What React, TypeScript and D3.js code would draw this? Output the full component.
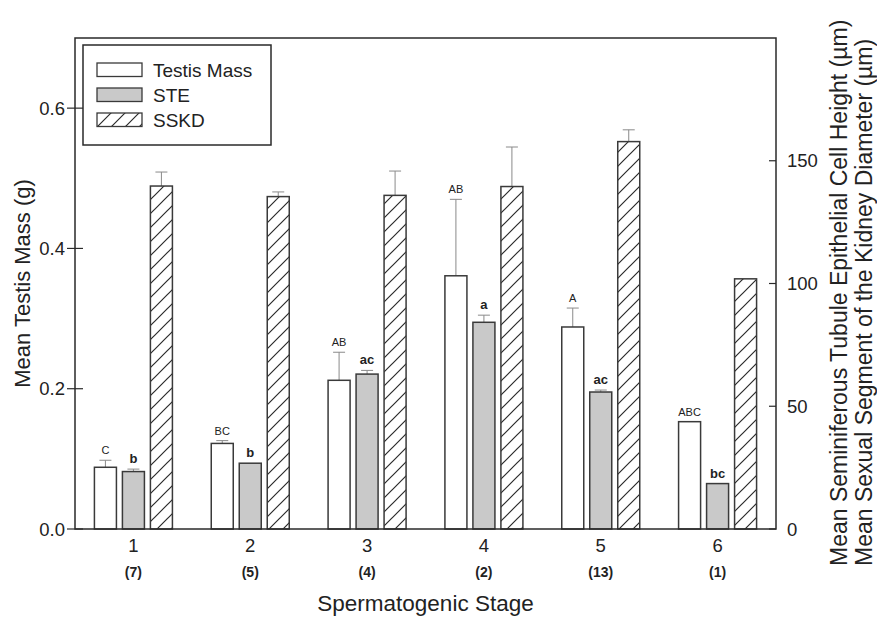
import * as d3 from 'd3'

const stages = ['1', '2', '3', '4', '5', '6']
const sampleSizes = ['(7)', '(5)', '(4)', '(2)', '(13)', '(1)']

// left axis (g)
const testisMass = [0.088, 0.122, 0.212, 0.361, 0.288, 0.153]
const testisMassErr = [0.01, 0.004, 0.04, 0.109, 0.027, 0]
const massLetters = ['C', 'BC', 'AB', 'AB', 'A', 'ABC']

// right axis (µm)
const ste = [23.4, 26.8, 63.1, 84.2, 55.8, 18.5]
const steErr = [1.0, 0, 1.5, 2.9, 0.8, 0]
const steLetters = ['b', 'b', 'ac', 'a', 'ac', 'bc']

const sskd = [139.7, 135.4, 135.9, 139.5, 157.8, 101.9]
const sskdErr = [5.7, 1.9, 9.9, 16.1, 4.8, 0]

const leftTicks = [0, 0.2, 0.4, 0.6]
const rightTicks = [0, 50, 100, 150]
const seriesNames = ['Testis Mass', 'STE', 'SSKD']

const W = 877
const H = 618
const margin = { top: 38, right: 101, bottom: 89, left: 75 }
const FONT = '"Liberation Sans", Arial, sans-serif'
const INK = '#222'
const EDGE = '#3a3a3a'
const ERR = '#8a8a8a'
const GREY = '#c9c9c9'

export default function App() {
  const innerW = W - margin.left - margin.right
  const innerH = H - margin.top - margin.bottom
  const x0 = margin.left
  const y0 = margin.top
  const bottom = y0 + innerH

  const x = d3.scaleBand<string>().domain(stages).range([x0, x0 + innerW])
  const inner = d3.scaleBand<string>().domain(seriesNames).range([-39, 39]).paddingInner(0.214)
  const yL = d3.scaleLinear().domain([0, 0.7]).range([bottom, y0])
  const yR = d3.scaleLinear().domain([0, 200]).range([bottom, y0])
  const fmt = d3.format('.1f')
  const bw = inner.bandwidth()

  const errBar = (cx: number, yTop: number, yErr: number, key: string) =>
    yErr < yTop - 0.5 ? (
      <g key={key} stroke={ERR} strokeWidth={1}>
        <line x1={cx} x2={cx} y1={yTop} y2={yErr} />
        <line x1={cx - 6} x2={cx + 6} y1={yErr} y2={yErr} />
      </g>
    ) : null

  return (
    <svg width={W} height={H} style={{ position: 'absolute', left: 0, top: 0, background: '#fff' }} fontFamily={FONT}>
      <defs>
        <pattern id="hatch" patternUnits="userSpaceOnUse" width={14} height={14}>
          <rect width={14} height={14} fill="#fff" />
          <path d="M-7,7 L7,-7 M0,14 L14,0 M7,21 L21,7" stroke="#2a2a2a" strokeWidth={1.2} />
        </pattern>
      </defs>

      {/* bars */}
      {stages.map((s, i) => {
        const c = x(s)! + x.bandwidth() / 2
        const xm = c + inner('Testis Mass')!
        const xs = c + inner('STE')!
        const xk = c + inner('SSKD')!
        const ym = yL(testisMass[i])
        const ys = yR(ste[i])
        const yk = yR(sskd[i])
        const yme = yL(testisMass[i] + testisMassErr[i])
        const yse = yR(ste[i] + steErr[i])
        const yke = yR(sskd[i] + sskdErr[i])
        return (
          <g key={s}>
            {errBar(xm + bw / 2, ym, yme, 'em')}
            {errBar(xs + bw / 2, ys, yse, 'es')}
            {errBar(xk + bw / 2, yk, yke, 'ek')}
            <rect x={xm} y={ym} width={bw} height={bottom - ym} fill="#fff" stroke={EDGE} strokeWidth={1.5} />
            <rect x={xs} y={ys} width={bw} height={bottom - ys} fill={GREY} stroke={EDGE} strokeWidth={1.5} />
            <rect x={xk} y={yk} width={bw} height={bottom - yk} fill="url(#hatch)" stroke={EDGE} strokeWidth={1.5} />
            <text x={xm + bw / 2} y={Math.min(ym, yme) - 6} textAnchor="middle" fontSize={11} fill={INK}>
              {massLetters[i]}
            </text>
            <text x={xs + bw / 2} y={Math.min(ys, yse) - 6} textAnchor="middle" fontSize={13} fontWeight="bold" fill={INK}>
              {steLetters[i]}
            </text>
            <text x={c} y={552} textAnchor="middle" fontSize={18.5} fill={INK}>{s}</text>
            <text x={c} y={577} textAnchor="middle" fontSize={14} fontWeight="bold" fill={INK}>{sampleSizes[i]}</text>
          </g>
        )
      })}

      {/* frame */}
      <rect x={x0} y={y0} width={innerW} height={innerH} fill="none" stroke="#2a2a2a" strokeWidth={1.5} />

      {/* left axis */}
      {leftTicks.map((t) => (
        <g key={'l' + t}>
          <line x1={x0 - 8} x2={x0 + 8} y1={yL(t)} y2={yL(t)} stroke="#2a2a2a" strokeWidth={1.2} />
          <text x={x0 - 10} y={yL(t) + 6.5} textAnchor="end" fontSize={18.5} fill={INK}>{fmt(t)}</text>
        </g>
      ))}

      {/* right axis */}
      {rightTicks.map((t) => (
        <g key={'r' + t}>
          <line x1={x0 + innerW - 7} x2={x0 + innerW} y1={yR(t)} y2={yR(t)} stroke="#2a2a2a" strokeWidth={1.2} />
          <text x={x0 + innerW + 11} y={yR(t) + 6.5} textAnchor="start" fontSize={18.5} fill={INK}>{t}</text>
        </g>
      ))}

      {/* axis titles */}
      <text transform={`translate(30,${(y0 + bottom) / 2}) rotate(-90)`} textAnchor="middle" fontSize={22} fill={INK}>
        Mean Testis Mass (g)
      </text>
      <text x={x0 + innerW / 2} y={611} textAnchor="middle" fontSize={22.5} fill={INK}>
        Spermatogenic Stage
      </text>
      <text transform="translate(847,566) rotate(-90)" textAnchor="start" fontSize={23} fill={INK}>
        Mean Seminiferous Tubule Epithelial Cell Height (µm)
      </text>
      <text transform="translate(872,566) rotate(-90)" textAnchor="start" fontSize={23} fill={INK}>
        Mean Sexual Segment of the Kidney Diameter (µm)
      </text>

      {/* legend */}
      <g>
        <rect x={83} y={45} width={188} height={100} fill="#fff" stroke="#2a2a2a" strokeWidth={1.5} />
        {seriesNames.map((n, i) => {
          const ly = 63 + i * 25
          const fill = i === 0 ? '#fff' : i === 1 ? GREY : 'url(#hatch)'
          return (
            <g key={n}>
              <rect x={97} y={ly} width={45} height={13.5} fill={fill} stroke={EDGE} strokeWidth={1.3} />
              <text x={153} y={ly + 14} fontSize={19} fill={INK}>{n}</text>
            </g>
          )
        })}
      </g>
    </svg>
  )
}
